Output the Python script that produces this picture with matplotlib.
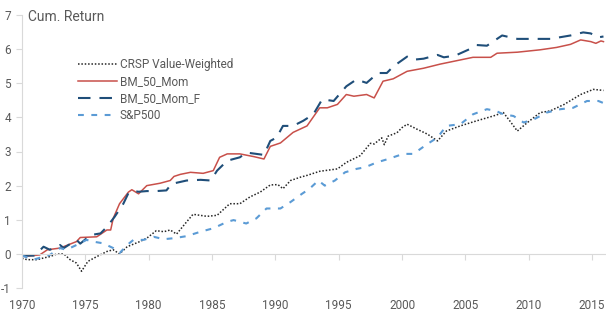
import matplotlib
matplotlib.use('Agg')
import matplotlib.pyplot as plt

plt.rcParams['font.family'] = ['Roboto', 'DejaVu Sans']
plt.rcParams['axes.unicode_minus'] = False

# values (decimal year, cumulative return)
crsp_x = [1970.0, 1970.4, 1971.2, 1971.7, 1972.2, 1972.7, 1973.3, 1973.8, 1974.3, 1974.7,
          1975.2, 1975.9, 1976.7, 1977.2, 1977.7, 1978.3, 1979.3, 1979.85, 1980.6, 1981.2,
          1981.7, 1982.2, 1983.0, 1983.5, 1984.6, 1985.4, 1986.4, 1987.2, 1988.0, 1988.8,
          1989.6, 1990.2, 1990.6, 1991.2, 1992.0, 1992.5, 1993.5, 1994.9, 1995.6, 1996.7,
          1997.5, 1997.8, 1998.4, 1998.6, 1998.9, 1999.6, 2000.0, 2000.4, 2001.2, 2002.0,
          2002.8, 2003.5, 2004.6, 2005.9, 2007.2, 2008.0, 2008.5, 2009.1, 2009.9, 2010.9,
          2011.7, 2012.8, 2014.1, 2015.1, 2015.9]
crsp_y = [-0.13, -0.17, -0.17, -0.12, -0.08, -0.01, 0.0, -0.17, -0.27, -0.51,
          -0.22, -0.08, 0.07, 0.12, 0.0, 0.21, 0.36, 0.46, 0.68, 0.65,
          0.70, 0.58, 0.94, 1.16, 1.10, 1.13, 1.47, 1.47, 1.67, 1.81,
          2.02, 2.03, 1.91, 2.15, 2.25, 2.30, 2.42, 2.49, 2.68, 2.88,
          3.24, 3.22, 3.40, 3.20, 3.45, 3.55, 3.70, 3.80, 3.65, 3.51,
          3.31, 3.60, 3.75, 3.90, 4.04, 4.14, 3.90, 3.60, 3.85, 4.14,
          4.19, 4.38, 4.67, 4.82, 4.79]

bm_x = [1970.0, 1971.4, 1972.0, 1973.0, 1974.3, 1974.6, 1975.9, 1976.7, 1977.0, 1977.2,
        1977.7, 1978.4, 1978.67, 1979.2, 1979.85, 1980.9, 1981.7, 1982.0, 1982.5, 1983.3,
        1984.3, 1985.1, 1985.6, 1986.2, 1987.2, 1988.3, 1989.1, 1989.6, 1990.4, 1991.4,
        1992.5, 1993.5, 1994.1, 1994.9, 1995.6, 1996.2, 1997.2, 1997.8, 1998.5, 1999.3,
        2000.4, 2001.7, 2003.0, 2004.3, 2005.6, 2007.0, 2007.5, 2009.1, 2010.9, 2012.2,
        2013.3, 2014.1, 2014.9, 2015.3, 2015.7, 2015.9]
bm_y = [-0.08, -0.03, 0.12, 0.17, 0.36, 0.48, 0.50, 0.70, 0.70, 1.04,
        1.47, 1.81, 1.88, 1.76, 2.00, 2.07, 2.15, 2.27, 2.33, 2.39,
        2.36, 2.44, 2.83, 2.93, 2.93, 2.85, 2.78, 3.15, 3.25, 3.56,
        3.75, 4.28, 4.28, 4.38, 4.67, 4.62, 4.67, 4.57, 5.06, 5.13,
        5.35, 5.44, 5.56, 5.66, 5.76, 5.76, 5.88, 5.91, 5.98, 6.05,
        6.14, 6.27, 6.22, 6.17, 6.24, 6.22]

bmf_x = [1970.0, 1971.0, 1971.7, 1972.2, 1973.0, 1973.3, 1974.3, 1974.6, 1975.4, 1976.2,
         1976.7, 1977.3, 1978.0, 1978.4, 1978.67, 1979.2, 1979.85, 1980.6, 1981.4, 1981.8,
         1983.0, 1984.1, 1984.9, 1985.4, 1986.2, 1987.2, 1987.7, 1989.1, 1989.6, 1990.1,
         1990.6, 1991.4, 1992.2, 1993.0, 1993.7, 1994.6, 1995.6, 1996.4, 1997.2, 1998.1,
         1998.8, 1999.3, 2000.4, 2000.9, 2001.7, 2002.8, 2003.3, 2004.2, 2005.4, 2005.9,
         2006.7, 2007.9, 2009.1, 2010.7, 2011.7, 2013.3, 2014.3, 2014.9, 2015.4, 2015.9]
bmf_y = [-0.05, -0.05, 0.21, 0.12, 0.26, 0.17, 0.41, 0.30, 0.55, 0.60,
         0.79, 1.08, 1.47, 1.78, 1.85, 1.82, 1.84, 1.84, 1.86, 2.05,
         2.15, 2.17, 2.15, 2.44, 2.73, 2.83, 2.97, 2.90, 3.31, 3.41,
         3.75, 3.75, 3.90, 4.09, 4.53, 4.48, 4.91, 5.11, 5.01, 5.30,
         5.30, 5.49, 5.78, 5.69, 5.72, 5.83, 5.76, 5.81, 6.01, 6.12,
         6.10, 6.40, 6.30, 6.30, 6.30, 6.40, 6.49, 6.46, 6.34, 6.37]

sp_x = [1970.0, 1970.9, 1972.2, 1973.0, 1973.5, 1974.3, 1975.1, 1975.6, 1976.4, 1977.2,
        1977.7, 1978.3, 1978.8, 1979.6, 1980.4, 1981.2, 1982.0, 1983.0, 1984.1, 1985.1,
        1986.2, 1986.7, 1987.7, 1988.5, 1989.3, 1990.4, 1991.2, 1992.1, 1992.7, 1993.4,
        1993.9, 1994.7, 1995.5, 1996.4, 1997.1, 1998.0, 1998.9, 2000.1, 2000.9, 2002.0,
        2002.8, 2003.5, 2004.6, 2005.6, 2006.7, 2007.4, 2008.0, 2008.8, 2009.6, 2010.4,
        2011.4, 2012.5, 2013.5, 2014.6, 2015.5, 2015.9]
sp_y = [-0.05, -0.17, -0.03, 0.17, 0.12, 0.26, 0.41, 0.36, 0.31, 0.17,
        0.02, 0.26, 0.41, 0.41, 0.50, 0.43, 0.46, 0.52, 0.65, 0.75,
        0.94, 0.99, 0.89, 1.04, 1.33, 1.33, 1.52, 1.76, 1.91, 2.15,
        2.00, 2.15, 2.39, 2.49, 2.54, 2.68, 2.78, 2.93, 2.93, 3.22,
        3.41, 3.75, 3.80, 4.09, 4.24, 4.19, 4.09, 4.04, 3.85, 3.94,
        4.14, 4.24, 4.28, 4.48, 4.48, 4.42]

year_ticks = [1970, 1975, 1980, 1985, 1990, 1995, 2000, 2005, 2010, 2015]
value_ticks = [-1, 0, 1, 2, 3, 4, 5, 6, 7]

grey = '#d9d9d9'
text_col = '#595959'

fig = plt.figure(figsize=(6.06, 3.18), dpi=100)
ax = fig.add_axes([22 / 606, 30 / 318, 584 / 606, 273 / 318])

l1, = ax.plot(crsp_x, crsp_y, color='#262626', lw=1.1, linestyle=(0, (1, 1.2)))
l2, = ax.plot(bm_x, bm_y, color='#c8504a', lw=1.1)
l3, = ax.plot(bmf_x, bmf_y, color='#1f4e79', lw=1.5, linestyle=(0, (6, 4.3)))
l4, = ax.plot(sp_x, sp_y, color='#5b9bd5', lw=1.5, linestyle=(0, (2.8, 3.6)))

ax.set_xlim(1970, 2016.1)
ax.set_ylim(-1, 7)

for s in ['top', 'right']:
    ax.spines[s].set_visible(False)
ax.spines['left'].set_color(grey)
ax.spines['bottom'].set_color(grey)
ax.spines['bottom'].set_position(('data', 0))

ax.set_yticks(value_ticks)
ax.tick_params(axis='y', direction='out', length=4, color=grey, labelcolor=text_col,
               labelsize=8.5, pad=4)
ax.set_xticks(year_ticks)
ax.tick_params(axis='x', direction='out', length=4, color=grey, labelbottom=False)

sec = ax.secondary_xaxis('bottom')
sec.spines['bottom'].set_visible(False)
sec.set_xticks(year_ticks)
sec.tick_params(length=0, pad=8, labelcolor=text_col, labelsize=8.5)

fig.text(28 / 606, 1 - 17 / 318, 'Cum. Return', fontsize=10, color=text_col,
         ha='left', va='center')

leg = ax.legend([l1, l2, l3, l4], ['CRSP Value-Weighted', 'BM_50_Mom', 'BM_50_Mom_F', 'S&P500'],
                loc='upper left', bbox_to_anchor=(78 / 606, 1 - 58 / 318),
                bbox_transform=fig.transFigure, frameon=False, borderpad=0,
                fontsize=8.5, handlelength=3.3, handletextpad=0.25, labelspacing=0.35,
                borderaxespad=0)
for t in leg.get_texts():
    t.set_color(text_col)

plt.savefig('out.png', dpi=100)
